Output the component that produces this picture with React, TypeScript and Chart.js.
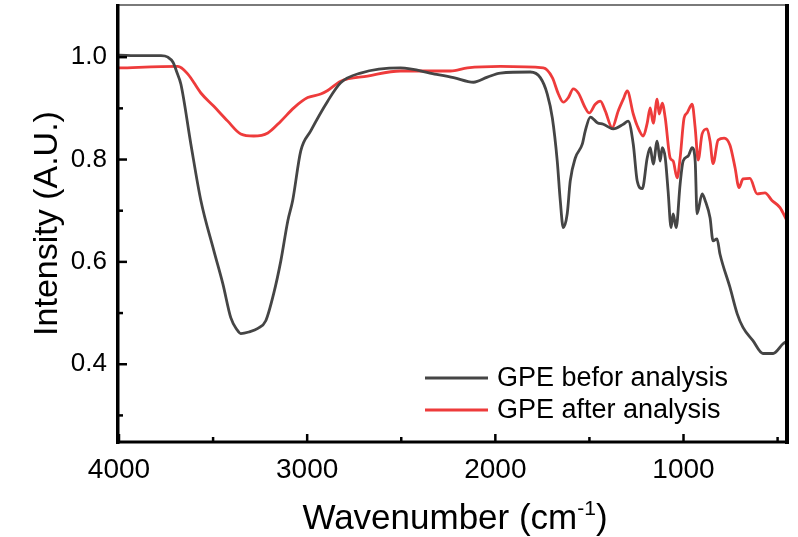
import React, { useEffect, useRef } from 'react';
import { Chart, registerables } from 'chart.js';

Chart.register(...registerables);

// ---- Data (wavenumber in cm^-1, intensity in A.U.) ----
const beforeWavenumber = [
  4000, 3883, 3777, 3740, 3713, 3692, 3671, 3618, 3565, 3496,
  3448, 3406, 3374, 3353, 3310, 3262, 3220, 3178, 3140, 3103,
  3077, 3034, 2981, 2891, 2822, 2716, 2504, 2323, 2222, 2116,
  2042, 1973, 1814, 1761, 1724, 1697, 1671, 1655, 1639, 1618,
  1602, 1575, 1538, 1522, 1495, 1458, 1426, 1373, 1320, 1294,
  1267, 1246, 1219, 1193, 1177, 1161, 1140, 1124, 1113, 1097,
  1082, 1066, 1055, 1039, 1018, 1002, 975, 954, 938, 928,
  901, 885, 859, 843, 822, 806, 753, 715, 684, 631,
  578, 524, 471, 450,
];
const beforeIntensity = [
  1.004, 1.003, 1.003, 1.0, 0.99, 0.97, 0.947, 0.83, 0.72, 0.622,
  0.557, 0.491, 0.468, 0.46, 0.463, 0.47, 0.485, 0.538, 0.602, 0.68,
  0.72, 0.817, 0.856, 0.914, 0.95, 0.969, 0.979, 0.967, 0.96, 0.951,
  0.961, 0.969, 0.971, 0.96, 0.928, 0.881, 0.797, 0.72, 0.667, 0.694,
  0.758, 0.803, 0.83, 0.856, 0.883, 0.872, 0.869, 0.86, 0.869, 0.875,
  0.83, 0.758, 0.743, 0.803, 0.823, 0.791, 0.836, 0.797, 0.823, 0.803,
  0.739, 0.667, 0.694, 0.667, 0.752, 0.797, 0.807, 0.823, 0.797, 0.694,
  0.733, 0.72, 0.686, 0.641, 0.645, 0.615, 0.55, 0.499, 0.472, 0.446,
  0.421, 0.421, 0.44, 0.445,
];
const afterWavenumber = [
  4000, 3687, 3634, 3565, 3496, 3422, 3353, 3284, 3209, 3140,
  3071, 2997, 2928, 2891, 2822, 2679, 2504, 2360, 2238, 2148,
  1973, 1745, 1697, 1665, 1639, 1612, 1586, 1559, 1522, 1501,
  1469, 1442, 1416, 1379, 1347, 1320, 1299, 1267, 1246, 1214,
  1193, 1177, 1161, 1140, 1129, 1113, 1097, 1071, 1055, 1034,
  1018, 997, 981, 954, 938, 922, 901, 875, 859, 843,
  816, 784, 753, 726, 705, 684, 647, 609, 567, 530,
  487, 450,
];
const afterIntensity = [
  0.979, 0.982, 0.967, 0.93, 0.904, 0.875, 0.85, 0.846, 0.852, 0.875,
  0.901, 0.921, 0.928, 0.935, 0.953, 0.963, 0.973, 0.973, 0.973, 0.979,
  0.982, 0.979, 0.96, 0.928, 0.912, 0.921, 0.938, 0.93, 0.901, 0.891,
  0.908, 0.914, 0.895, 0.862, 0.895, 0.918, 0.934, 0.889, 0.866, 0.846,
  0.871, 0.901, 0.871, 0.918, 0.889, 0.91, 0.881, 0.803, 0.797, 0.764,
  0.803, 0.881, 0.891, 0.908, 0.862, 0.799, 0.85, 0.86, 0.836, 0.792,
  0.838, 0.842, 0.828, 0.784, 0.745, 0.762, 0.763, 0.733, 0.735, 0.72,
  0.706, 0.68,
];

const seriesLabels = ['GPE befor analysis', 'GPE after analysis'];
const seriesColors = ['#454545', '#ee3b3b'];

const xMajorTicks = [4000, 3000, 2000, 1000];
const xMinorTicks = [3500, 2500, 1500, 500];
const yMajorTicks = [0.4, 0.6, 0.8, 1.0];
const yMinorTicks = [0.3, 0.5, 0.7, 0.9];

const xTitle = 'Wavenumber (cm';
const xTitleSup = '-1';
const yTitle = 'Intensity (A.U.)';

const FONT = 'Arial, "Liberation Sans", sans-serif';

const isIn = (arr: number[], v: number) => arr.some((a) => Math.abs(a - v) < 1e-6);

const framePlugin = {
  id: 'frameAndDecor',
  afterDraw(chart: any) {
    const { ctx, chartArea } = chart;
    const { left, right, top, bottom } = chartArea;
    const xs = chart.scales.x;
    const ys = chart.scales.y;
    ctx.save();
    ctx.lineCap = 'butt';

    // top border (thin grey)
    ctx.strokeStyle = '#7a7a7a';
    ctx.lineWidth = 2;
    ctx.beginPath();
    ctx.moveTo(left - 2, top - 1);
    ctx.lineTo(right + 2, top - 1);
    ctx.stroke();

    ctx.strokeStyle = '#000';
    // right border
    ctx.lineWidth = 4;
    ctx.beginPath();
    ctx.moveTo(right, top - 2);
    ctx.lineTo(right, bottom + 3);
    ctx.stroke();
    // left axis
    ctx.lineWidth = 3.5;
    ctx.beginPath();
    ctx.moveTo(left - 1.25, top - 2);
    ctx.lineTo(left - 1.25, bottom + 3);
    ctx.stroke();
    // bottom axis
    ctx.lineWidth = 3;
    ctx.beginPath();
    ctx.moveTo(left - 3, bottom + 1);
    ctx.lineTo(right + 2, bottom + 1);
    ctx.stroke();

    // inward ticks
    ctx.lineWidth = 2.5;
    const drawX = (vals: number[], len: number) => {
      vals.forEach((v) => {
        const px = xs.getPixelForValue(v);
        ctx.beginPath();
        ctx.moveTo(px, bottom);
        ctx.lineTo(px, bottom - len);
        ctx.stroke();
      });
    };
    const drawY = (vals: number[], len: number) => {
      vals.forEach((v) => {
        const py = ys.getPixelForValue(v);
        ctx.beginPath();
        ctx.moveTo(left, py);
        ctx.lineTo(left + len, py);
        ctx.stroke();
      });
    };
    drawX(xMajorTicks, 7);
    drawX(xMinorTicks, 4);
    drawY(yMajorTicks, 8);
    drawY(yMinorTicks, 4);

    // legend
    const ds = chart.data.datasets;
    ctx.font = `27px ${FONT}`;
    ctx.textBaseline = 'middle';
    ctx.textAlign = 'left';
    const legendY = [378, 410];
    ds.forEach((d: any, i: number) => {
      ctx.strokeStyle = d.borderColor;
      ctx.lineWidth = 3;
      ctx.beginPath();
      ctx.moveTo(425, legendY[i]);
      ctx.lineTo(488, legendY[i]);
      ctx.stroke();
      ctx.fillStyle = '#000';
      ctx.fillText(d.label, 497, legendY[i] + 1);
    });

    // axis titles
    ctx.fillStyle = '#000';
    ctx.font = `34px ${FONT}`;
    ctx.textBaseline = 'alphabetic';
    // y title
    ctx.save();
    ctx.translate(57, (top + bottom) / 2);
    ctx.rotate(-Math.PI / 2);
    ctx.textAlign = 'center';
    ctx.fillText(yTitle, 0, 0);
    ctx.restore();
    // x title with superscript
    ctx.textAlign = 'left';
    ctx.font = `35px ${FONT}`;
    const w1 = ctx.measureText(xTitle).width;
    ctx.font = `21px ${FONT}`;
    const w2 = ctx.measureText(xTitleSup).width;
    ctx.font = `35px ${FONT}`;
    const w3 = ctx.measureText(')').width;
    const total = w1 + w2 + w3;
    const cx = (left + right) / 2 + 2;
    let x0 = cx - total / 2;
    const base = 529;
    ctx.fillText(xTitle, x0, base);
    x0 += w1;
    ctx.font = `21px ${FONT}`;
    ctx.fillText(xTitleSup, x0, base - 14);
    x0 += w2;
    ctx.font = `35px ${FONT}`;
    ctx.fillText(')', x0, base);

    ctx.restore();
  },
};

export default function App() {
  const canvasRef = useRef<HTMLCanvasElement | null>(null);

  useEffect(() => {
    const canvas = canvasRef.current;
    if (!canvas) return;
    const chart = new Chart(canvas, {
      type: 'line',
      data: {
        datasets: [
          {
            label: seriesLabels[0],
            data: beforeWavenumber.map((x, i) => ({ x, y: beforeIntensity[i] })),
            borderColor: seriesColors[0],
            backgroundColor: seriesColors[0],
          },
          {
            label: seriesLabels[1],
            data: afterWavenumber.map((x, i) => ({ x, y: afterIntensity[i] })),
            borderColor: seriesColors[1],
            backgroundColor: seriesColors[1],
          },
        ],
      },
      options: {
        animation: false,
        responsive: false,
        devicePixelRatio: 1,
        layout: { autoPadding: false, padding: { left: 0, right: 11, top: 6, bottom: 0 } },
        plugins: {
          legend: { display: false },
          tooltip: { enabled: false },
          title: { display: false },
        },
        elements: {
          point: { radius: 0 },
          line: { borderWidth: 2.8, cubicInterpolationMode: 'monotone' },
        },
        scales: {
          x: {
            type: 'linear',
            reverse: true,
            min: 450,
            max: 4000,
            grid: { display: false, drawTicks: false },
            border: { display: false },
            afterBuildTicks: (s: any) => {
              s.ticks = [...xMajorTicks, ...xMinorTicks]
                .sort((a, b) => a - b)
                .map((value) => ({ value }));
            },
            ticks: {
              autoSkip: false,
              maxRotation: 0,
              padding: 12,
              color: '#000',
              font: { family: FONT, size: 28 },
              callback: (v: any) => (isIn(xMajorTicks, Number(v)) ? String(v) : ''),
            },
            afterFit: (s: any) => {
              s.height = 96;
              s.paddingLeft = 0;
              s.paddingRight = 0;
              s.paddingTop = 0;
              s.paddingBottom = 0;
            },
          },
          y: {
            type: 'linear',
            min: 0.25,
            max: 1.1,
            grid: { display: false, drawTicks: false },
            border: { display: false },
            afterBuildTicks: (s: any) => {
              s.ticks = [...yMajorTicks, ...yMinorTicks]
                .sort((a, b) => a - b)
                .map((value) => ({ value }));
            },
            ticks: {
              autoSkip: false,
              padding: 12,
              color: '#000',
              font: { family: FONT, size: 26 },
              callback: (v: any) => (isIn(yMajorTicks, Number(v)) ? Number(v).toFixed(1) : ''),
            },
            afterFit: (s: any) => {
              s.width = 119;
              s.paddingLeft = 0;
              s.paddingRight = 0;
              s.paddingTop = 0;
              s.paddingBottom = 0;
            },
          },
        },
      },
      plugins: [framePlugin],
    } as any);
    return () => chart.destroy();
  }, []);

  return (
    <div style={{ position: 'absolute', left: 0, top: 0, width: 798, height: 537, background: '#fff' }}>
      <canvas ref={canvasRef} width={798} height={537} style={{ display: 'block' }} />
    </div>
  );
}
